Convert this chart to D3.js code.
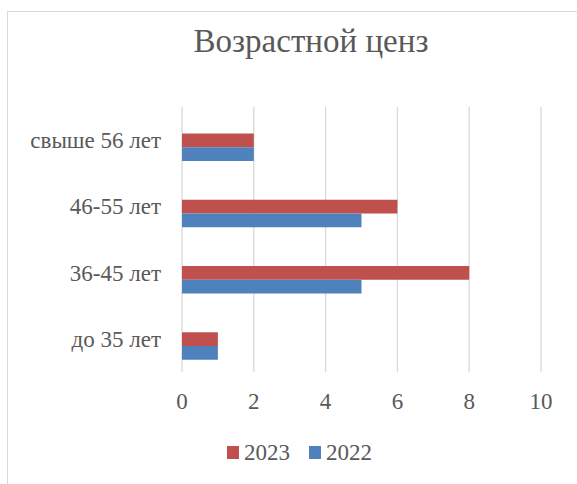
<!DOCTYPE html>
<html>
<head>
<meta charset="utf-8">
<script src="https://cdn.jsdelivr.net/npm/d3@7"></script>
<style>
  body { margin: 0; background: #fff; }
</style>
</head>
<body>
<svg id="chart" width="577" height="484"></svg>
<script>
// categories top to bottom, as in the picture
const categories = ["свыше 56 лет", "46-55 лет", "36-45 лет", "до 35 лет"];
const series = ["2023", "2022"];
const values2023 = [2, 6, 8, 1];
const values2022 = [2, 5, 5, 1];
const xTicks = [0, 2, 4, 6, 8, 10];
const colors = { "2023": "#C0504D", "2022": "#4F81BD" };
const serif = "'Liberation Serif', 'DejaVu Serif', serif";

const svg = d3.select("#chart")
    .style("font-family", serif);

// chart frame
svg.append("rect")
    .attr("x", 7.5).attr("y", 11.5)
    .attr("width", 600).attr("height", 500)
    .attr("fill", "#fff")
    .attr("stroke", "#d9d9d9").attr("stroke-width", 1);

svg.append("text")
    .attr("x", 311).attr("y", 52)
    .attr("text-anchor", "middle")
    .attr("fill", "#595959")
    .style("font-family", serif)
    .style("font-size", "33px")
    .text("Возрастной ценз");

const x = d3.scaleLinear().domain([0, 10]).range([182, 541]);
const y = d3.scaleBand().domain(categories).range([107, 372]);
// bar pair sits a bit below band centre, like the original
const inner = d3.scaleBand().domain(series).range([26.5, 54]);

// vertical gridlines
svg.append("g")
    .selectAll("line")
    .data(xTicks)
    .enter().append("line")
    .attr("x1", d => x(d)).attr("x2", d => x(d))
    .attr("y1", 107).attr("y2", 372)
    .attr("stroke", "#d9d9d9").attr("stroke-width", 1.3);

// x tick labels
svg.append("g")
    .selectAll("text")
    .data(xTicks)
    .enter().append("text")
    .attr("x", d => x(d)).attr("y", 409)
    .attr("text-anchor", "middle")
    .attr("fill", "#595959")
    .style("font-family", serif)
    .style("font-size", "23px")
    .text(d => d);

// category labels
svg.append("g")
    .selectAll("text")
    .data(categories)
    .enter().append("text")
    .attr("x", 161)
    .attr("y", d => y(d) + y.bandwidth() / 2 + 8)
    .attr("text-anchor", "end")
    .attr("fill", "#595959")
    .style("font-family", serif)
    .style("font-size", "23px")
    .text(d => d);

const rows = categories.map((c, i) => ({ cat: c, "2023": values2023[i], "2022": values2022[i] }));

series.forEach(s => {
    svg.append("g")
        .selectAll("rect")
        .data(rows)
        .enter().append("rect")
        .attr("x", x(0))
        .attr("y", d => y(d.cat) + inner(s))
        .attr("width", d => x(d[s]) - x(0))
        .attr("height", inner.bandwidth())
        .attr("fill", colors[s]);
});

// legend
const legendPos = [{ s: "2023", x: 227 }, { s: "2022", x: 309 }];
const lg = svg.append("g");
legendPos.forEach(l => {
    lg.append("rect")
        .attr("x", l.x).attr("y", 446)
        .attr("width", 12).attr("height", 13)
        .attr("fill", colors[l.s]);
    lg.append("text")
        .attr("x", l.x + 17).attr("y", 460)
        .attr("fill", "#595959")
        .style("font-family", serif)
        .style("font-size", "23px")
        .text(l.s);
});
</script>
</body>
</html>
